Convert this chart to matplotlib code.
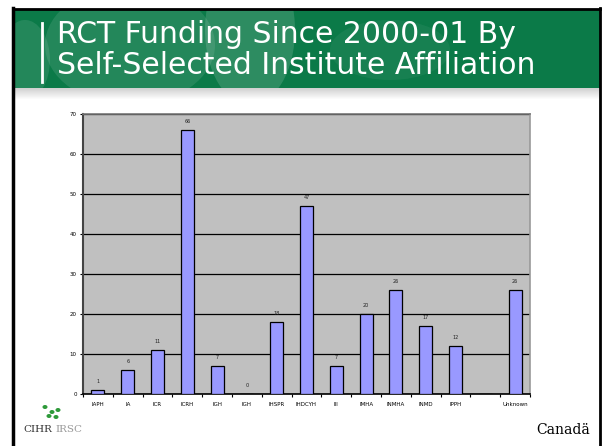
import matplotlib
matplotlib.use("Agg")
import matplotlib.pyplot as plt
from matplotlib.patches import Rectangle, Ellipse
import numpy as np

# データ
研究所 = ["IAPH", "IA", "ICR", "ICRH", "IGH", "IGH", "IHSPR", "IHDCYH",
          "III", "IMHA", "INMHA", "INMD", "IPPH", "", "Unknown"]
件数 = [1, 6, 11, 66, 7, 0, 18, 47, 7, 20, 26, 17, 12, None, 26]
目盛 = [0, 10, 20, 30, 40, 50, 60, 70]
タイトル = "RCT Funding Since 2000-01 By\nSelf-Selected Institute Affiliation"

W, H = 602, 446
fig = plt.figure(figsize=(W / 100, H / 100), dpi=100)
fig.patch.set_facecolor("white")


def px(x, y):
    # ピクセル座標(左上原点) -> figure座標
    return x / W, 1 - y / H


def 矩形(x0, y0, x1, y1, **kw):
    fx, fy = px(x0, y1)
    fig.patches.append(Rectangle((fx, fy), (x1 - x0) / W, (y1 - y0) / H,
                                 transform=fig.transFigure, **kw))


# ヘッダー
矩形(13, 9, 600, 88, facecolor="#0b7a48", edgecolor="none", zorder=0)
for (cx, cy, w, h, a) in [(130, 45, 170, 120, 0.10), (250, 30, 90, 150, 0.14),
                          (25, 60, 50, 80, 0.10), (390, 50, 120, 60, 0.05)]:
    fx, fy = px(cx, cy)
    fig.patches.append(Ellipse((fx, fy), w / W, h / H, transform=fig.transFigure,
                               facecolor="white", alpha=a, edgecolor="none",
                               zorder=0))
矩形(0, 0, 602, 8, facecolor="white", edgecolor="none", zorder=0.5)
矩形(0, 0, 13, 100, facecolor="white", edgecolor="none", zorder=0.5)
for i in range(12):
    g = 0.82 + 0.18 * i / 11
    矩形(13, 88 + i, 600, 89 + i, facecolor=(g, g, g), edgecolor="none", zorder=0.5)
# 枠線
fig.add_artist(plt.Line2D([13 / W, 13 / W], [0, 1 - 8 / H], color="black", lw=2.5,
                          transform=fig.transFigure))
fig.add_artist(plt.Line2D([600 / W, 600 / W], [0, 1 - 8 / H], color="black", lw=2,
                          transform=fig.transFigure))
fig.add_artist(plt.Line2D([13 / W, 600 / W], [1 - 8.5 / H, 1 - 8.5 / H], color="black",
                          lw=2, transform=fig.transFigure))
fig.add_artist(plt.Line2D([42 / W, 42 / W], [1 - 23 / H, 1 - 82 / H], color="white",
                          lw=2, transform=fig.transFigure))
fig.text(57 / W, 1 - 50 / H, タイトル, color="white", fontsize=21.5,
         family="DejaVu Sans", va="center", ha="left", linespacing=1.1)

# ロゴ
fig.text(52 / W, 1 - 430 / H, "CIHR", family="DejaVu Serif", fontsize=7.5,
         color="#333333", ha="right", va="center")
fig.text(55 / W, 1 - 430 / H, "IRSC", family="DejaVu Serif", fontsize=7.5,
         color="#999999", ha="left", va="center")
for (cx, cy) in [(45, 407), (52, 412), (58, 410), (49, 416), (56, 417)]:
    fx, fy = px(cx, cy)
    fig.patches.append(Ellipse((fx, fy), 5 / W, 4 / H, transform=fig.transFigure,
                               facecolor="#2e9a3a", edgecolor="none"))
fig.text(590 / W, 1 - 430 / H, "Canadä", family="DejaVu Serif", fontsize=10,
         color="black", ha="right", va="center")

# グラフ
ax = fig.add_axes([83 / W, 1 - 394 / H, (530 - 83) / W, (394 - 114) / H])
ax.set_facecolor("#c0c0c0")
x = np.arange(len(研究所))
高さ = [v if v is not None else 0 for v in 件数]
ax.bar(x, 高さ, width=0.43, color="#9999ff", edgecolor="black", linewidth=0.9, zorder=3)
for xi, v in zip(x, 件数):
    if v is not None:
        ax.text(xi, v + 1.6, str(v), ha="center", va="bottom", fontsize=3.5,
                color="#222222")
ax.set_xlim(-0.5, len(研究所) - 0.5)
ax.set_ylim(0, 70)
ax.set_yticks(目盛)
ax.set_yticklabels([str(t) for t in 目盛], fontsize=4)
ax.yaxis.grid(True, color="black", linewidth=0.9, zorder=1)
ax.set_axisbelow(True)
ax.set_xticks(x)
ax.set_xticklabels(研究所, fontsize=4)
ax.tick_params(axis="x", length=0, pad=6)
ax.set_xticks(np.arange(len(研究所) + 1) - 0.5, minor=True)
ax.tick_params(axis="x", which="minor", length=2.5, width=0.8, direction="out")
ax.tick_params(axis="y", length=2.5, width=0.8, pad=2)
ax.spines["left"].set_linewidth(1.5)
ax.spines["left"].set_color("#444444")
ax.spines["bottom"].set_linewidth(1.2)
ax.spines["top"].set_color("#777777")
ax.spines["top"].set_linewidth(1.2)
ax.spines["right"].set_color("#999999")
ax.spines["right"].set_linewidth(1.2)

fig.savefig("out.png", dpi=100)
